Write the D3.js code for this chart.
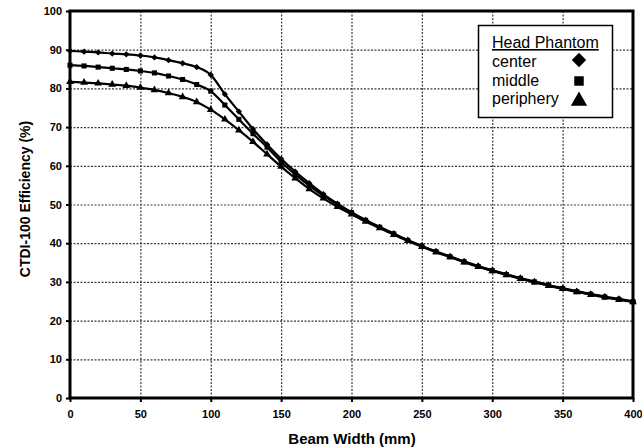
<!DOCTYPE html>
<html>
<head>
<meta charset="utf-8">
<script src="https://cdn.jsdelivr.net/npm/d3@7"></script>
<style>
  html, body { margin: 0; padding: 0; background: #fff; }
  svg { display: block; font-family: "Liberation Sans", Arial, sans-serif; }
</style>
</head>
<body>
<svg id="chart" width="642" height="448"></svg>
<script>
// ---- data ----
const beamWidth = [0,10,20,30,40,50,60,70,80,90,100,110,120,130,140,150,160,170,180,190,200,
                   210,220,230,240,250,260,270,280,290,300,310,320,330,340,350,360,370,380,390,400];
const center    = [89.7,89.5,89.3,89.0,88.8,88.5,88.0,87.3,86.5,85.5,83.5,78.5,74.0,69.5,65.5,61.8,58.5,55.5,52.7,50.2,48.0,
                   46.0,44.2,42.5,40.8,39.3,37.9,36.6,35.3,34.1,33.0,32.0,31.0,30.1,29.2,28.4,27.6,26.9,26.2,25.6,25.0];
const middle    = [86.0,85.8,85.5,85.2,84.9,84.5,84.0,83.2,82.3,81.0,79.3,75.7,72.0,68.3,64.8,61.0,57.8,54.9,52.3,50.0,47.9,
                   45.9,44.1,42.4,40.7,39.2,37.8,36.5,35.2,34.0,32.9,31.9,30.9,30.0,29.1,28.3,27.5,26.8,26.1,25.5,24.9];
const periphery = [81.7,81.5,81.3,81.0,80.7,80.2,79.6,78.8,77.8,76.5,74.5,72.0,69.2,66.2,63.0,59.8,56.8,54.0,51.6,49.4,47.5,
                   45.6,43.9,42.2,40.6,39.1,37.7,36.4,35.1,33.9,32.8,31.8,30.8,29.9,29.0,28.2,27.4,26.7,26.0,25.4,24.8];
const seriesNames = ["center", "middle", "periphery"];
const xTicks = [0,50,100,150,200,250,300,350,400];
const yTicks = [0,10,20,30,40,50,60,70,80,90,100];
const legendTitle = "Head Phantom";
const xTitle = "Beam Width (mm)";
const yTitle = "CTDI-100 Efficiency (%)";

// ---- layout ----
const svg = d3.select("#chart");
const L = 70, R = 633, T = 11, B = 398;
const x = d3.scaleLinear().domain([0, 400]).range([L, R]);
const y = d3.scaleLinear().domain([0, 100]).range([B, T]);

// grid via axes with full-length ticks
const gx = svg.append("g").attr("transform", `translate(0,${B})`)
  .call(d3.axisBottom(x).tickValues(xTicks.slice(1, -1)).tickSize(-(B - T)).tickFormat(""));
const gy = svg.append("g").attr("transform", `translate(${L},0)`)
  .call(d3.axisLeft(y).tickValues(yTicks.slice(1, -1)).tickSize(-(R - L)).tickFormat(""));
[gx, gy].forEach(g => {
  g.select(".domain").remove();
  g.selectAll(".tick line")
    .style("stroke", "#3a3a3a").style("stroke-width", "1.2px").style("stroke-dasharray", "2 1.5");
});

// axes
const xAxis = svg.append("g").attr("transform", `translate(0,${B})`)
  .call(d3.axisBottom(x).tickValues(xTicks).tickSize(4).tickPadding(8).tickFormat(d3.format("d")));
const yAxis = svg.append("g").attr("transform", `translate(${L},0)`)
  .call(d3.axisLeft(y).tickValues(yTicks).tickSize(4).tickPadding(4).tickFormat(d3.format("d")));
[xAxis, yAxis].forEach(a => {
  a.select(".domain").remove();
  a.selectAll(".tick line").attr("stroke", "#000").attr("stroke-width", 2);
  a.selectAll(".tick text").attr("fill", "#000").style("font-size", "11px").style("font-weight", "bold");
});

// frame
svg.append("rect").attr("x", L).attr("y", T).attr("width", R - L).attr("height", B - T)
  .attr("fill", "none").attr("stroke", "#000").attr("stroke-width", 3);

// lines
const seriesVals = [center, middle, periphery];
const line = d3.line().x(d => x(d[0])).y(d => y(d[1])).curve(d3.curveMonotoneX);
const diamond = { draw(ctx, size) { const r = Math.sqrt(size) * 0.62; ctx.moveTo(0, -r); ctx.lineTo(r, 0); ctx.lineTo(0, r); ctx.lineTo(-r, 0); ctx.closePath(); } };
const symbols = [diamond, d3.symbolSquare, d3.symbolTriangle];
seriesVals.forEach((vals, i) => {
  const pts = beamWidth.map((b, j) => [b, vals[j]]);
  svg.append("path").datum(pts).attr("d", line)
    .attr("fill", "none").attr("stroke", "#000").attr("stroke-width", 2.2);
  svg.append("g").selectAll("path").data(pts).join("path")
    .attr("transform", d => `translate(${x(d[0])},${y(d[1])})`)
    .attr("d", d3.symbol().type(symbols[i]).size(26))
    .attr("fill", "#000");
});

// axis titles
svg.append("text").attr("x", 352).attr("y", 444).attr("text-anchor", "middle")
  .style("font-size", "15px").style("font-weight", "bold").text(xTitle);
svg.append("text").attr("transform", "translate(30,199) rotate(-90)").attr("text-anchor", "middle")
  .style("font-size", "14px").style("font-weight", "bold").text(yTitle);

// legend
const lg = svg.append("g");
lg.append("rect").attr("x", 478.5).attr("y", 25.5).attr("width", 134).attr("height", 92)
  .attr("fill", "#fff").attr("stroke", "#000").attr("stroke-width", 1.5);
lg.append("text").attr("x", 492).attr("y", 48).style("font-size", "16px")
  .style("text-decoration", "underline").text(legendTitle);
const markerY = [60, 81, 101];
const markerSize = [135, 90, 115];
seriesNames.forEach((n, i) => {
  const yy = 67 + i * 18.7;
  lg.append("text").attr("x", 492).attr("y", yy).style("font-size", "16px").text(n);
  lg.append("path").attr("transform", `translate(579,${markerY[i]})`)
    .attr("d", d3.symbol().type(symbols[i]).size(markerSize[i])).attr("fill", "#000");
});
</script>
</body>
</html>
